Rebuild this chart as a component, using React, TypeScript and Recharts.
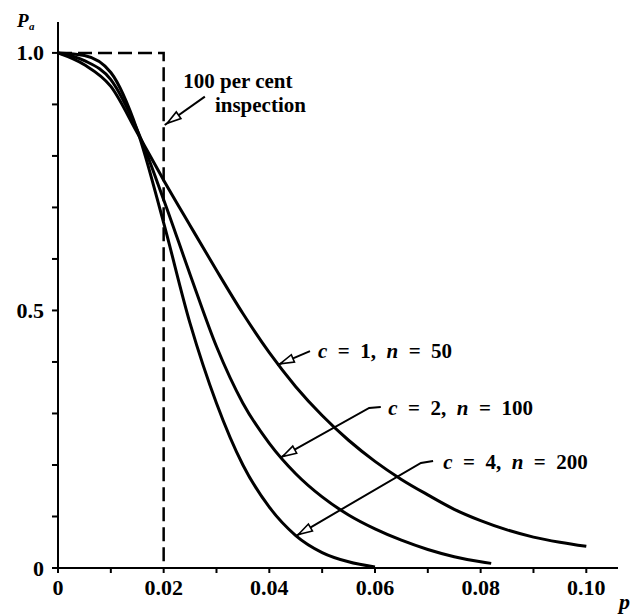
import { Line, LineChart, XAxis, YAxis } from 'recharts';

// fraction defective p and probability of acceptance Pa
const P_C1 = [0, 0.005, 0.01, 0.015, 0.02, 0.025, 0.03, 0.035, 0.04, 0.045, 0.05, 0.055, 0.06, 0.065, 0.07, 0.075, 0.08, 0.085, 0.09, 0.095, 0.1];
const PA_C1 = [1.0, 0.977, 0.935, 0.845, 0.753, 0.665, 0.578, 0.494, 0.418, 0.352, 0.296, 0.248, 0.207, 0.172, 0.142, 0.114, 0.092, 0.074, 0.06, 0.05, 0.042];

const P_C2 = [0, 0.005, 0.01, 0.015, 0.02, 0.025, 0.03, 0.035, 0.04, 0.045, 0.05, 0.055, 0.06, 0.065, 0.07, 0.075, 0.08, 0.082];
const PA_C2 = [1.0, 0.985, 0.948, 0.85, 0.715, 0.57, 0.43, 0.32, 0.242, 0.183, 0.138, 0.103, 0.076, 0.054, 0.036, 0.022, 0.012, 0.009];

const P_C4 = [0, 0.005, 0.01, 0.015, 0.02, 0.025, 0.03, 0.035, 0.04, 0.045, 0.05, 0.055, 0.06];
const PA_C4 = [1.0, 0.995, 0.962, 0.85, 0.67, 0.475, 0.32, 0.2, 0.118, 0.063, 0.03, 0.012, 0.002];

// ideal OC curve (100 per cent inspection)
const P_IDEAL = [0, 0.02, 0.02];
const PA_IDEAL = [1.0, 1.0, 0.0];

const X_TICKS = [0, 0.01, 0.02, 0.03, 0.04, 0.05, 0.06, 0.07, 0.08, 0.09, 0.1];
const X_TICK_LABELS = ['0', '', '0.02', '', '0.04', '', '0.06', '', '0.08', '', '0.10'];
const Y_TICKS = [0, 0.1, 0.2, 0.3, 0.4, 0.5, 0.6, 0.7, 0.8, 0.9, 1.0];
const Y_TICK_LABELS = ['0', '', '', '', '', '0.5', '', '', '', '', '1.0'];

const W = 638;
const H = 616;
const X_DOMAIN: [number, number] = [0, 0.106];
const Y_DOMAIN: [number, number] = [0, 1.06];
const LEFT = 58;
const RIGHT = 20;
const TOP = 22;
const BOTTOM = 48;
const PLOT_W = W - LEFT - RIGHT;
const PLOT_H = H - TOP - BOTTOM;

const FONT = 'Liberation Serif, Times New Roman, serif';
const SP = '\u2002';

const zip = (ps: number[], vs: number[]) => ps.map((p, i) => ({ p, v: vs[i] }));

const sx = (p: number) => LEFT + ((p - X_DOMAIN[0]) / (X_DOMAIN[1] - X_DOMAIN[0])) * PLOT_W;
const sy = (v: number) => TOP + (1 - (v - Y_DOMAIN[0]) / (Y_DOMAIN[1] - Y_DOMAIN[0])) * PLOT_H;

// annotation arrows: polyline points in (p, Pa), last point is the tip
const ARROWS: [number, number][][] = [
  [[0.0278, 0.915], [0.0202, 0.86]],
  [[0.0477, 0.421], [0.0415, 0.394]],
  [[0.0611, 0.3126], [0.0589, 0.3107], [0.042, 0.2136]],
  [[0.071, 0.2078], [0.0687, 0.2039], [0.045, 0.0621]],
];

const textStyle = { fontFamily: FONT, fontWeight: 700 } as const;

const XTick = (props: any) => {
  const { x, y, payload } = props;
  const i = X_TICKS.findIndex((t) => Math.abs(t - payload.value) < 1e-9);
  const label = i >= 0 ? X_TICK_LABELS[i] : '';
  if (!label) return <g />;
  return (
    <text x={x} y={y + 20} textAnchor="middle" style={{ ...textStyle, fontSize: 22 }} fill="#000">
      {label}
    </text>
  );
};

const YTick = (props: any) => {
  const { x, y, payload } = props;
  const i = Y_TICKS.findIndex((t) => Math.abs(t - payload.value) < 1e-9);
  const label = i >= 0 ? Y_TICK_LABELS[i] : '';
  if (!label) return <g />;
  return (
    <text x={x - 6} y={y + 7.5} textAnchor="end" style={{ ...textStyle, fontSize: 22 }} fill="#000">
      {label}
    </text>
  );
};

function Arrow({ pts }: { pts: [number, number][] }) {
  const xy = pts.map(([p, v]) => [sx(p), sy(v)]);
  const [tx, ty] = xy[xy.length - 1];
  const [px, py] = xy[xy.length - 2];
  const len = Math.hypot(tx - px, ty - py);
  const dx = (tx - px) / len;
  const dy = (ty - py) / len;
  const nx = -dy;
  const ny = dx;
  const a = [tx - dx * 3, ty - dy * 3];
  const b = [tx - dx * 17, ty - dy * 17];
  const head = `${a[0]},${a[1]} ${b[0] + nx * 4},${b[1] + ny * 4} ${b[0] - nx * 4},${b[1] - ny * 4}`;
  return (
    <g>
      <polyline points={xy.map((q) => q.join(',')).join(' ')} fill="none" stroke="#000" strokeWidth={2} />
      <polygon points={head} fill="#fff" stroke="#000" strokeWidth={1.6} />
    </g>
  );
}

function CurveLabel({ p, v, c, n }: { p: number; v: number; c: string; n: string }) {
  return (
    <text x={sx(p)} y={sy(v)} style={{ ...textStyle, fontSize: 21 }} fill="#000">
      <tspan fontStyle="italic">c</tspan>
      {`${SP}=${SP}${c},${SP}`}
      <tspan fontStyle="italic">n</tspan>
      {`${SP}=${SP}${n}`}
    </text>
  );
}

export default function App() {
  return (
    <div style={{ position: 'absolute', left: 0, top: 0, width: W, height: H, background: '#fff' }}>
      <LineChart width={W} height={H} margin={{ top: TOP, right: RIGHT, bottom: 0, left: 0 }}>
        <XAxis
          type="number"
          dataKey="p"
          domain={X_DOMAIN}
          ticks={X_TICKS}
          allowDataOverflow
          height={BOTTOM}
          tickSize={5}
          tick={<XTick />}
          axisLine={{ stroke: '#000', strokeWidth: 2 }}
          tickLine={{ stroke: '#000', strokeWidth: 2 }}
        />
        <YAxis
          type="number"
          dataKey="v"
          domain={Y_DOMAIN}
          ticks={Y_TICKS}
          allowDataOverflow
          width={LEFT}
          tickSize={6}
          tick={<YTick />}
          axisLine={{ stroke: '#000', strokeWidth: 2 }}
          tickLine={{ stroke: '#000', strokeWidth: 2 }}
        />
        <Line
          data={zip(P_IDEAL, PA_IDEAL)}
          dataKey="v"
          type="linear"
          stroke="#000"
          strokeWidth={2.5}
          strokeDasharray="14 6"
          dot={false}
          isAnimationActive={false}
        />
        <Line data={zip(P_C1, PA_C1)} dataKey="v" type="monotone" stroke="#000" strokeWidth={3} dot={false} isAnimationActive={false} />
        <Line data={zip(P_C2, PA_C2)} dataKey="v" type="monotone" stroke="#000" strokeWidth={3} dot={false} isAnimationActive={false} />
        <Line data={zip(P_C4, PA_C4)} dataKey="v" type="monotone" stroke="#000" strokeWidth={3} dot={false} isAnimationActive={false} />
      </LineChart>
      <svg width={W} height={H} style={{ position: 'absolute', left: 0, top: 0, pointerEvents: 'none' }}>
        {ARROWS.map((pts, i) => (
          <Arrow key={i} pts={pts} />
        ))}
        <text x={sx(0.0237)} y={sy(0.932)} style={{ ...textStyle, fontSize: 21 }}>
          100 per cent
        </text>
        <text x={sx(0.0297)} y={sy(0.885)} style={{ ...textStyle, fontSize: 21 }}>
          inspection
        </text>
        <CurveLabel p={0.0492} v={0.408} c="1" n="50" />
        <CurveLabel p={0.0625} v={0.297} c="2" n="100" />
        <CurveLabel p={0.0729} v={0.192} c="4" n="200" />
        <text x={17} y={27} style={{ ...textStyle, fontSize: 19, fontStyle: 'italic' }}>
          P
        </text>
        <text x={29} y={30} style={{ ...textStyle, fontSize: 11, fontStyle: 'italic' }}>
          a
        </text>
        <text x={619} y={609} style={{ ...textStyle, fontSize: 22, fontStyle: 'italic' }}>
          p
        </text>
      </svg>
    </div>
  );
}
